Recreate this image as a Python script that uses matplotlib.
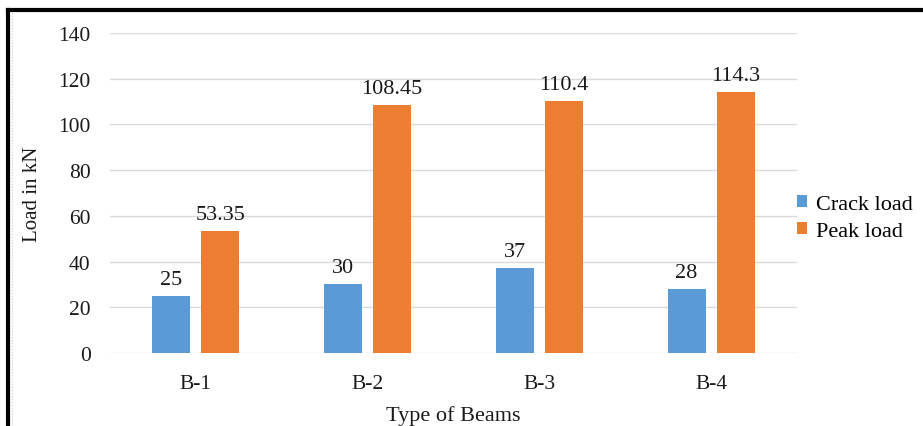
import matplotlib.pyplot as plt
import numpy as np
from matplotlib.lines import Line2D

beams = ['B-1', 'B-2', 'B-3', 'B-4']
crack = [25, 30, 37, 28]
peak = [53.35, 108.45, 110.4, 114.3]
crack_lbl = ['25', '30', '37', '28']
peak_lbl = ['53.35', '108.45', '110.4', '114.3']

plt.rcParams['font.family'] = ['Liberation Serif', 'DejaVu Serif']

W, H = 923, 427
fig = plt.figure(figsize=(W/100, H/100), dpi=100)
ax = fig.add_axes([110/W, 1-354/H, 687/W, 320/H])

x = np.arange(len(beams))
w = 0.221
off = 0.143
b1 = ax.bar(x - off, crack, w, color='#5B9BD5', label='Crack load')
b2 = ax.bar(x + off, peak, w, color='#ED7D31', label='Peak load')
for bars, labs in ((b1, crack_lbl), (b2, peak_lbl)):
    for r, t in zip(bars, labs):
        ax.annotate(t, (r.get_x() + r.get_width()/2, r.get_height()),
                    xytext=(0, 5), textcoords='offset points',
                    ha='center', va='bottom', fontsize=16, color='#1a1a1a')

ax.set_xlim(-0.5, 3.5)
ax.set_ylim(0, 140)
ax.set_yticks(range(0, 141, 20))
ax.set_xticks(x)
ax.set_xticklabels(beams)
ax.tick_params(length=0, labelsize=15.5, colors='#1a1a1a')
ax.tick_params(axis='y', pad=14)
ax.tick_params(axis='x', pad=15)
ax.grid(axis='y', color='#d9d9d9', lw=1)
ax.set_axisbelow(True)
for s in ax.spines.values():
    s.set_visible(False)
ax.set_ylabel('Load in kN', fontsize=15, color='#1a1a1a', labelpad=12)
ax.set_xlabel('Type of Beams', fontsize=16, color='#1a1a1a', labelpad=9)

ax.legend(loc='center left', bbox_to_anchor=(1.0, 0.422), frameon=False,
          fontsize=16, handlelength=0.45, handleheight=0.45, handletextpad=0.4,
          labelspacing=0.35, borderaxespad=0, borderpad=0)

# black frame (open at right and bottom)
fig.add_artist(Line2D([8/W, 8/W], [0, 1-11/H], color='black', lw=3))
fig.add_artist(Line2D([8/W, 1], [1-11/H, 1-11/H], color='black', lw=3))
fig.add_artist(Line2D([11.5/W, 11.5/W], [0, 1-13/H], color='#cccccc', lw=0.8, ls=':'))

fig.savefig('out.png', dpi=100)
